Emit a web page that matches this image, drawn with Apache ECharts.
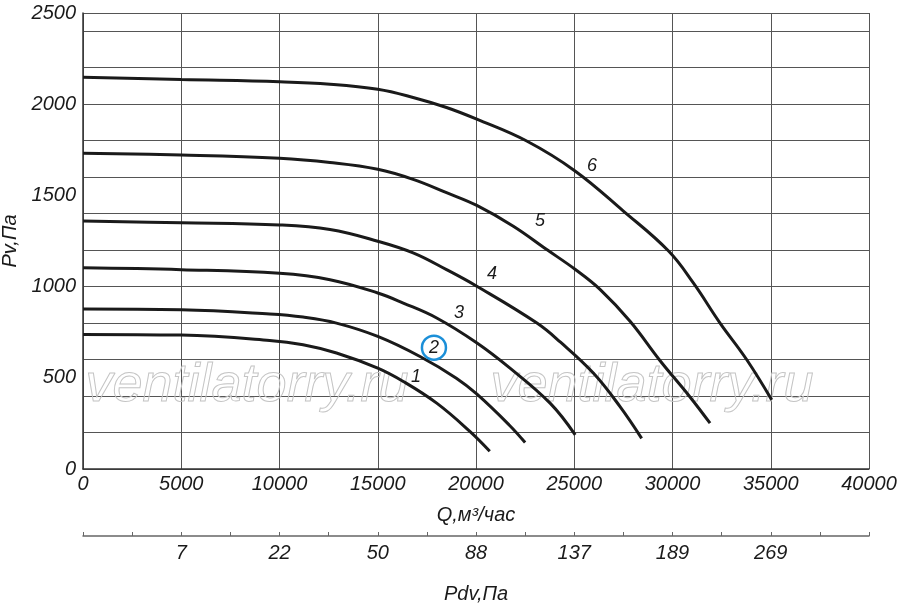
<!DOCTYPE html>
<html>
<head>
<meta charset="utf-8">
<title>Pv - Q</title>
<style>
html,body{margin:0;padding:0;background:#fff;}
#main{width:900px;height:615px;}
</style>
</head>
<body>
<div id="main"></div>
<script src="https://cdn.jsdelivr.net/npm/echarts@6/dist/echarts.min.js"></script>
<script>
// curves Q (m3/h) -> Pv (Pa)
var curve1Q = [0, 5000, 9500, 11200, 12900, 15000, 16300, 18000, 19700, 20700];
var curve1P = [738, 734, 705, 681, 636, 553, 480, 361, 205, 97];
var curve2Q = [0, 5000, 9500, 11200, 12900, 15000, 17150, 19000, 20050, 21700, 22500];
var curve2P = [877, 873, 850, 833, 800, 727, 617, 498, 410, 240, 145];
var curve3Q = [0, 5000, 10000, 12570, 15000, 16300, 18000, 20050, 21730, 23770, 25050];
var curve3P = [1103, 1093, 1073, 1038, 965, 910, 828, 691, 553, 361, 187];
var curve4Q = [0, 5000, 10000, 12570, 15000, 16800, 18500, 20040, 23100, 24300, 25970, 27330, 28430];
var curve4P = [1359, 1350, 1338, 1313, 1249, 1185, 1093, 1002, 800, 695, 526, 342, 168];
var curve5Q = [0, 5000, 10000, 12570, 15000, 16800, 18500, 20040, 21900, 23600, 25040, 26310, 27840, 29360, 30890, 31910];
var curve5P = [1731, 1721, 1703, 1680, 1643, 1588, 1515, 1445, 1331, 1203, 1095, 985, 810, 595, 395, 251];
var curve6Q = [0, 5000, 10000, 12570, 15000, 16800, 18500, 20040, 22580, 25040, 27500, 29800, 31060, 32420, 33780, 35050];
var curve6P = [2148, 2135, 2123, 2110, 2082, 2037, 1982, 1918, 1798, 1634, 1414, 1195, 1020, 800, 599, 379];

// curve numbers
var labelText = ['1', '2', '3', '4', '5', '6'];
var labelQ = [16950, 17860, 19140, 20810, 23260, 25900];
var labelP = [505, 665, 857, 1071, 1357, 1659];

// second scale: dynamic pressure at given Q
var pdvQ = [5000, 10000, 15000, 20000, 25000, 30000, 35000];
var pdvLabels = ['7', '22', '50', '88', '137', '189', '269'];

var font = '"Liberation Sans", Arial, sans-serif';
var ink = '#1a1a1a';

function pairs(qs, ps) {
  var out = [];
  for (var i = 0; i < qs.length; i++) out.push([qs[i], ps[i]]);
  return out;
}

var curves = [
  pairs(curve1Q, curve1P), pairs(curve2Q, curve2P), pairs(curve3Q, curve3P),
  pairs(curve4Q, curve4P), pairs(curve5Q, curve5P), pairs(curve6Q, curve6P)
];

var series = curves.map(function (d) {
  return {
    type: 'line',
    data: d,
    smooth: 0.4,
    showSymbol: false,
    silent: true,
    lineStyle: { color: ink, width: 3 }
  };
});

var labelData = [];
for (var i = 0; i < labelText.length; i++) {
  var item = {
    value: [labelQ[i], labelP[i]],
    name: labelText[i],
    symbolSize: 0
  };
  if (labelText[i] === '2') {
    item.symbol = 'circle';
    item.symbolSize = 24;
    item.itemStyle = { color: 'rgba(255,255,255,0)', borderColor: '#1b8fd8', borderWidth: 2.5, opacity: 1 };
  }
  labelData.push(item);
}
series.push({
  type: 'scatter',
  data: labelData,
  silent: true,
  z: 5,
  itemStyle: { opacity: 1 },
  label: {
    show: true,
    position: 'inside',
    formatter: '{b}',
    color: ink,
    fontSize: 18,
    fontStyle: 'italic',
    fontFamily: font
  }
});

var axisText = { color: ink, fontSize: 20, fontStyle: 'italic', fontFamily: font };
function plain(v) { return String(v); }

var option = {
  animation: false,
  backgroundColor: '#fff',
  grid: { left: 83, right: 31, top: 13, bottom: 146, containLabel: false, outerBoundsMode: 'none' },
  xAxis: [{
    type: 'value',
    min: 0, max: 40000, interval: 5000,
    name: 'Q,м³/час',
    nameLocation: 'middle',
    nameGap: 36,
    nameTextStyle: axisText,
    axisLine: { onZero: false, lineStyle: { color: '#333', width: 1.5 } },
    axisTick: { show: false },
    axisLabel: Object.assign({ margin: 5, formatter: plain }, axisText),
    splitLine: { show: true, lineStyle: { color: '#555', width: 1 } }
  }, {
    type: 'value',
    position: 'bottom',
    offset: 67,
    min: 0, max: 40000, interval: 2500,
    name: 'Pdv,Па',
    nameLocation: 'middle',
    nameGap: 48,
    nameTextStyle: axisText,
    axisLine: { show: true, onZero: false, lineStyle: { color: '#666', width: 1.5 } },
    axisTick: { show: true, inside: true, length: 4, lineStyle: { color: '#666' } },
    axisLabel: Object.assign({
      margin: 7,
      formatter: function (v) {
        var k = pdvQ.indexOf(v);
        return k >= 0 ? pdvLabels[k] : '';
      }
    }, axisText),
    splitLine: { show: false }
  }],
  yAxis: [{
    type: 'value',
    position: 'left',
    min: 0, max: 2500, interval: 200,
    axisLine: { show: true, onZero: false, lineStyle: { color: '#333', width: 1.5 } },
    axisTick: { show: false },
    axisLabel: { show: false },
    splitLine: { show: true, lineStyle: { color: '#555', width: 1 } }
  }, {
    type: 'value',
    position: 'left',
    min: 0, max: 2500, interval: 500,
    name: 'Pv,Па',
    nameLocation: 'middle',
    nameRotate: 90,
    nameGap: 58,
    nameTextStyle: axisText,
    axisLine: { show: false },
    axisTick: { show: false },
    axisLabel: Object.assign({ margin: 7, formatter: plain }, axisText),
    splitLine: { show: false }
  }],
  graphic: [{
    type: 'text', left: 85, top: 358, silent: true, z: 1,
    style: {
      text: 'ventilatorry.ru',
      font: 'italic 54px "Liberation Sans", Arial, sans-serif',
      fill: 'rgba(255,255,255,0)', stroke: '#c4c4c4', lineWidth: 1
    }
  }, {
    type: 'text', left: 490, top: 358, silent: true, z: 1,
    style: {
      text: 'ventilatorry.ru',
      font: 'italic 54px "Liberation Sans", Arial, sans-serif',
      fill: 'rgba(255,255,255,0)', stroke: '#c4c4c4', lineWidth: 1
    }
  }],
  series: series
};

var myChart = echarts.init(document.getElementById('main'));
myChart.setOption(option);
</script>
</body>
</html>
